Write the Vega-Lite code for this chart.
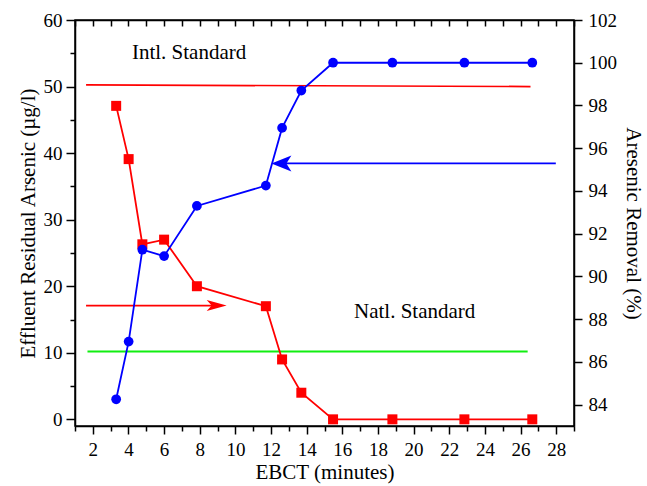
{
  "$schema": "https://vega.github.io/schema/vega-lite/v6.json",
  "autosize": "none",
  "width": 499,
  "height": 406,
  "padding": {"left": 75, "top": 20, "right": 73, "bottom": 60},
  "background": "white",
  "config": {
    "view": {"stroke": "black", "strokeWidth": 1.5},
    "axis": {
      "grid": false,
      "labelFont": "Liberation Serif",
      "labelFontSize": 19,
      "labelColor": "black",
      "titleFont": "Liberation Serif",
      "titleFontSize": 21,
      "titleFontWeight": "normal",
      "titleColor": "black",
      "domainColor": "black",
      "domainWidth": 1.5,
      "tickColor": "black",
      "tickWidth": 1.5
    }
  },
  "resolve": {"scale": {"x": "independent", "y": "independent"}},
  "layer": [
    {
      "data": {"values": [
        {"x": 1.62, "y": 50.25}, {"x": 26.56, "y": 50.0}
      ]},
      "mark": {"type": "line", "color": "#ff0000", "strokeWidth": 1.7},
      "encoding": {
        "x": {"field": "x", "type": "quantitative", "scale": {"domain": [1, 29], "nice": false, "zero": false}, "axis": null},
        "y": {"field": "y", "type": "quantitative", "scale": {"domain": [-1, 60], "nice": false, "zero": false},
              "axis": {"orient": "right", "values": [83, 85, 87, 89, 91, 93, 95, 97, 99, 101], "labels": false, "domain": false, "tickSize": 5, "title": null}}
      }
    },
    {
      "data": {"values": [
        {"x": 1.7, "y": 10.2}, {"x": 26.4, "y": 10.2}
      ]},
      "mark": {"type": "line", "color": "#11ee11", "strokeWidth": 2},
      "encoding": {
        "x": {"field": "x", "type": "quantitative", "scale": {"domain": [1, 29], "nice": false, "zero": false},
              "axis": {"orient": "bottom", "values": [1, 3, 5, 7, 9, 11, 13, 15, 17, 19, 21, 23, 25, 27, 29], "labels": false, "domain": false, "tickSize": 5, "title": null}},
        "y": {"field": "y", "type": "quantitative", "scale": {"domain": [-1, 60], "nice": false, "zero": false},
              "axis": {"orient": "left", "values": [5, 15, 25, 35, 45, 55], "labels": false, "domain": false, "tickSize": 5, "title": null}}
      }
    },
    {
      "data": {"values": [
        {"x": 1.62, "y": 17.1}, {"x": 9.1, "y": 17.1}
      ]},
      "mark": {"type": "line", "color": "#ff0000", "strokeWidth": 1.7},
      "encoding": {
        "x": {"field": "x", "type": "quantitative", "scale": {"domain": [1, 29], "nice": false, "zero": false}, "axis": null},
        "y": {"field": "y", "type": "quantitative", "scale": {"domain": [-1, 60], "nice": false, "zero": false}, "axis": null}
      }
    },
    {
      "data": {"values": [{"x": 9.51, "y": 17.1}]},
      "mark": {"type": "point", "shape": "M0,0 L-2,-0.55 L-1.5,0 L-2,0.55 Z", "size": 400, "filled": true, "color": "#ff0000", "opacity": 1, "strokeWidth": 0},
      "encoding": {
        "x": {"field": "x", "type": "quantitative", "scale": {"domain": [1, 29], "nice": false, "zero": false}, "axis": null},
        "y": {"field": "y", "type": "quantitative", "scale": {"domain": [-1, 60], "nice": false, "zero": false}, "axis": null}
      }
    },
    {
      "data": {"values": [
        {"x": 12.6, "y": 38.45}, {"x": 27.98, "y": 38.45}
      ]},
      "mark": {"type": "line", "color": "#0000ff", "strokeWidth": 1.7},
      "encoding": {
        "x": {"field": "x", "type": "quantitative", "scale": {"domain": [1, 29], "nice": false, "zero": false}, "axis": null},
        "y": {"field": "y", "type": "quantitative", "scale": {"domain": [-1, 60], "nice": false, "zero": false}, "axis": null}
      }
    },
    {
      "data": {"values": [{"x": 12.02, "y": 38.45}]},
      "mark": {"type": "point", "shape": "M0,0 L2,-0.8 L1.5,0 L2,0.8 Z", "size": 400, "filled": true, "color": "#0000ff", "opacity": 1, "strokeWidth": 0},
      "encoding": {
        "x": {"field": "x", "type": "quantitative", "scale": {"domain": [1, 29], "nice": false, "zero": false}, "axis": null},
        "y": {"field": "y", "type": "quantitative", "scale": {"domain": [-1, 60], "nice": false, "zero": false}, "axis": null}
      }
    },
    {
      "data": {"values": [
        {"x": 7.4, "y": 54.1, "label": "Intl. Standard"},
        {"x": 20.06, "y": 15.3, "label": "Natl. Standard"}
      ]},
      "mark": {"type": "text", "font": "Liberation Serif", "fontSize": 21, "color": "black", "align": "center", "baseline": "alphabetic"},
      "encoding": {
        "x": {"field": "x", "type": "quantitative", "scale": {"domain": [1, 29], "nice": false, "zero": false}, "axis": null},
        "y": {"field": "y", "type": "quantitative", "scale": {"domain": [-1, 60], "nice": false, "zero": false}, "axis": null},
        "text": {"field": "label"}
      }
    },
    {
      "data": {"values": [
        {"x": 3.31, "y": 47.1}, {"x": 4.01, "y": 39.1}, {"x": 4.78, "y": 26.3}, {"x": 6.0, "y": 27.0},
        {"x": 7.84, "y": 20.0}, {"x": 11.71, "y": 17.0}, {"x": 12.62, "y": 9.0}, {"x": 13.7, "y": 4.0},
        {"x": 15.48, "y": 0}, {"x": 18.81, "y": 0}, {"x": 22.85, "y": 0}, {"x": 26.66, "y": 0}
      ]},
      "mark": {"type": "line", "color": "#ff0000", "strokeWidth": 1.8, "point": {"shape": "square", "size": 100, "filled": true, "color": "#ff0000", "opacity": 1}},
      "encoding": {
        "x": {"field": "x", "type": "quantitative", "scale": {"domain": [1, 29], "nice": false, "zero": false},
              "axis": {"orient": "bottom", "values": [2, 4, 6, 8, 10, 12, 14, 16, 18, 20, 22, 24, 26, 28], "tickSize": 8, "labelPadding": 6, "title": "EBCT (minutes)", "titlePadding": 2}},
        "y": {"field": "y", "type": "quantitative", "scale": {"domain": [-1, 60], "nice": false, "zero": false},
              "axis": {"orient": "left", "values": [0, 10, 20, 30, 40, 50, 60], "tickSize": 9, "labelPadding": 4, "title": "Effluent Residual Arsenic (µg/l)", "titlePadding": 5}}
      }
    },
    {
      "data": {"values": [
        {"x": 3.31, "y": 84.25}, {"x": 4.01, "y": 86.95}, {"x": 4.78, "y": 91.25}, {"x": 6.0, "y": 90.95},
        {"x": 7.84, "y": 93.3}, {"x": 11.71, "y": 94.25}, {"x": 12.62, "y": 96.95}, {"x": 13.7, "y": 98.7},
        {"x": 15.48, "y": 100}, {"x": 18.81, "y": 100}, {"x": 22.85, "y": 100}, {"x": 26.66, "y": 100}
      ]},
      "mark": {"type": "line", "color": "#0000ff", "strokeWidth": 1.8, "point": {"shape": "circle", "size": 95, "filled": true, "color": "#0000ff", "opacity": 1}},
      "encoding": {
        "x": {"field": "x", "type": "quantitative", "scale": {"domain": [1, 29], "nice": false, "zero": false},
              "axis": {"orient": "top", "values": [1, 2, 3, 4, 5, 6, 7, 8, 9, 10, 11, 12, 13, 14, 15, 16, 17, 18, 19, 20, 21, 22, 23, 24, 25, 26, 27, 28, 29], "labels": false, "tickSize": -6, "title": null}},
        "y": {"field": "y", "type": "quantitative", "scale": {"domain": [83, 102], "nice": false, "zero": false},
              "axis": {"orient": "right", "values": [84, 86, 88, 90, 92, 94, 96, 98, 100, 102], "tickSize": 8, "labelPadding": 6, "title": "Aresenic Removal (%)", "titlePadding": 6}}
      }
    }
  ]
}
